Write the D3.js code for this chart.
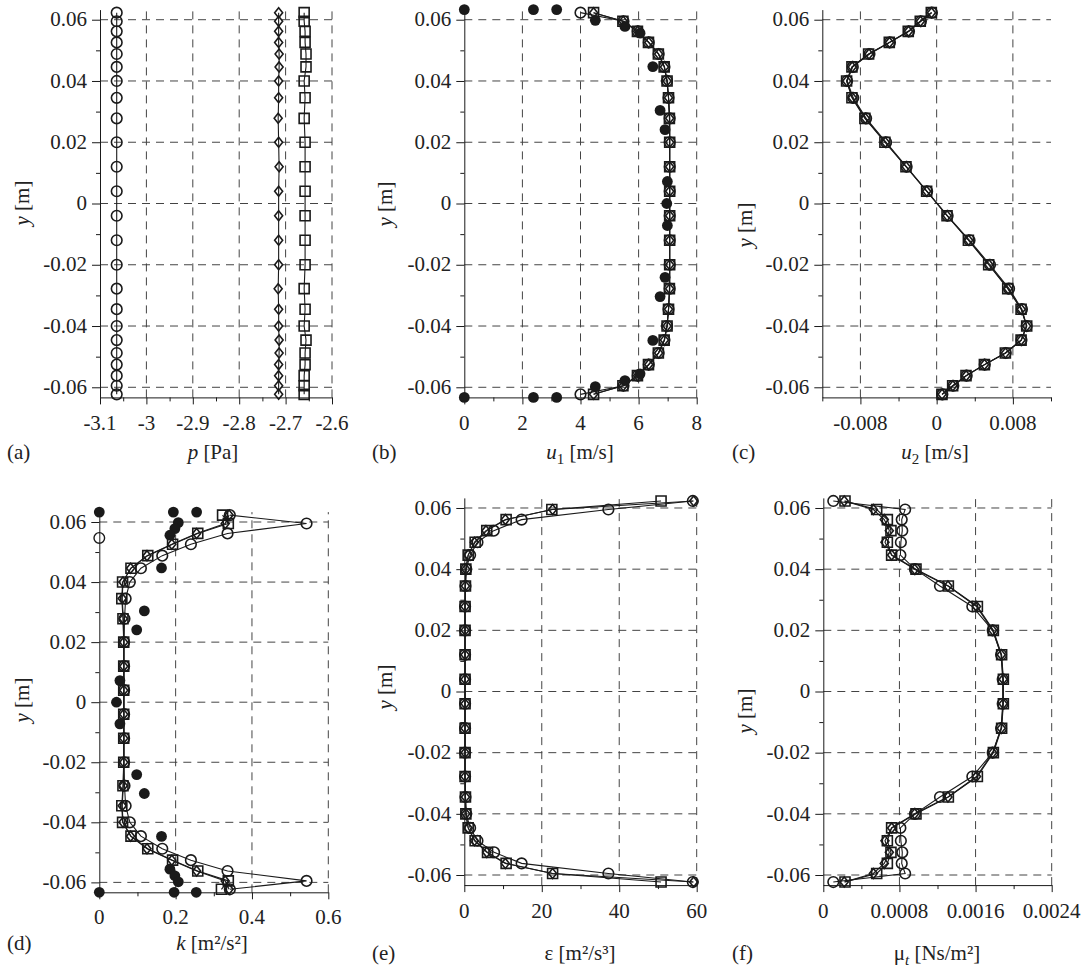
<!DOCTYPE html>
<html>
<head>
<meta charset="utf-8">
<script src="https://cdn.jsdelivr.net/npm/d3@7"></script>
<style>
  body { margin: 0; background: #fff; }
</style>
</head>
<body>
<svg width="1084" height="968"></svg>
<script>
const svg = d3.select('svg');
const serif = 'Times New Roman';

// grid nodes across the channel (top to bottom) [m]
const yNodes = [0.0623, 0.0595, 0.0562, 0.0526, 0.0488, 0.0446, 0.0400, 0.0345, 0.0278, 0.0200, 0.0120, 0.0040,
  -0.0040, -0.0120, -0.0200, -0.0278, -0.0345, -0.0400, -0.0446, -0.0488, -0.0526, -0.0562, -0.0595, -0.0623];

// measured points (filled circles)
const yExp = [0.0633, 0.0633, 0.0633, 0.0598, 0.0578, 0.0556, 0.0447, 0.0304, 0.0241, 0.0072, 0,
  -0.0072, -0.0241, -0.0304, -0.0447, -0.0556, -0.0578, -0.0598, -0.0633, -0.0633, -0.0633];

const yTicks = [0.06, 0.04, 0.02, 0, -0.02, -0.04, -0.06];
const yMinor = [0.05, 0.03, 0.01, -0.01, -0.03, -0.05];

// (a) pressure
const pCircle = [-3.064, -3.064, -3.064, -3.064, -3.064, -3.064, -3.064, -3.064, -3.064, -3.064, -3.064, -3.064,
  -3.064, -3.064, -3.064, -3.064, -3.064, -3.064, -3.064, -3.064, -3.064, -3.064, -3.064, -3.064];
const pDiamond = [-2.715, -2.715, -2.715, -2.715, -2.714, -2.714, -2.715, -2.715, -2.716, -2.715, -2.714, -2.715,
  -2.715, -2.715, -2.715, -2.716, -2.715, -2.715, -2.714, -2.714, -2.715, -2.715, -2.715, -2.715];
const pSquare = [-2.660, -2.660, -2.658, -2.658, -2.656, -2.656, -2.660, -2.658, -2.660, -2.658, -2.658, -2.658,
  -2.658, -2.658, -2.658, -2.660, -2.658, -2.660, -2.656, -2.658, -2.658, -2.660, -2.660, -2.660];
const pTicks = [-3.1, -3, -2.9, -2.8, -2.7, -2.6];
const pMinor = [-3.05, -2.95, -2.85, -2.75, -2.65];

// (b) streamwise velocity
const u1Circle = [4.0, 5.48, 5.97, 6.35, 6.69, 6.89, 6.98, 7.03, 7.07, 7.07, 7.07, 7.07,
  7.07, 7.07, 7.07, 7.07, 7.03, 6.98, 6.89, 6.69, 6.35, 5.97, 5.48, 4.0];
const u1Square = [4.45, 5.46, 5.96, 6.34, 6.68, 6.88, 6.98, 7.03, 7.06, 7.07, 7.07, 7.07,
  7.07, 7.07, 7.07, 7.06, 7.03, 6.98, 6.88, 6.68, 6.34, 5.96, 5.46, 4.45];
const u1Diamond = [4.45, 5.47, 5.97, 6.35, 6.69, 6.89, 6.98, 7.03, 7.07, 7.07, 7.07, 7.07,
  7.07, 7.07, 7.07, 7.07, 7.03, 6.98, 6.89, 6.69, 6.35, 5.97, 5.47, 4.45];
const u1Exp = [0, 2.38, 3.18, 4.51, 5.53, 6.05, 6.49, 6.74, 6.91, 6.99, 6.97,
  6.99, 6.91, 6.74, 6.49, 6.05, 5.53, 4.51, 0, 2.38, 3.18];
const u1Ticks = [0, 2, 4, 6, 8];
const u1Minor = [1, 3, 5, 7];

// (c) cross-stream velocity
const u2Circle = [-0.00050, -0.00165, -0.00290, -0.00490, -0.00705, -0.00880, -0.00940, -0.00875, -0.00740, -0.00530, -0.00315, -0.00100,
  0.00115, 0.00345, 0.00560, 0.00760, 0.00895, 0.00945, 0.00890, 0.00725, 0.00505, 0.00315, 0.00175, 0.00060];
const u2Square = [-0.00056, -0.00172, -0.00298, -0.00497, -0.00714, -0.00889, -0.00945, -0.00889, -0.00753, -0.00543, -0.00322, -0.00105,
  0.00109, 0.00333, 0.00546, 0.00746, 0.00886, 0.00945, 0.00886, 0.00721, 0.00501, 0.00308, 0.00168, 0.00056];
const u2Diamond = [-0.00054, -0.00170, -0.00295, -0.00495, -0.00710, -0.00886, -0.00944, -0.00884, -0.00748, -0.00538, -0.00320, -0.00104,
  0.00110, 0.00336, 0.00550, 0.00750, 0.00888, 0.00945, 0.00887, 0.00722, 0.00502, 0.00310, 0.00170, 0.00057];
const u2Ticks = [-0.008, 0, 0.008];
const u2Minor = [-0.012, -0.004, 0.004, 0.012];

// (d) turbulent kinetic energy
const kCircle = [0.342, 0.543, 0.336, 0.240, 0.165, 0.109, 0.080, 0.069, 0.066, 0.065, 0.065, 0.065,
  0.065, 0.065, 0.065, 0.066, 0.069, 0.080, 0.109, 0.165, 0.240, 0.336, 0.543, 0.342];
const kSquare = [0.323, 0.338, 0.258, 0.192, 0.127, 0.083, 0.061, 0.059, 0.062, 0.064, 0.064, 0.064,
  0.064, 0.064, 0.064, 0.062, 0.059, 0.061, 0.083, 0.127, 0.192, 0.258, 0.338, 0.320];
const kDiamond = [0.340, 0.330, 0.255, 0.190, 0.125, 0.082, 0.062, 0.060, 0.063, 0.064, 0.064, 0.064,
  0.064, 0.064, 0.064, 0.063, 0.060, 0.062, 0.082, 0.125, 0.190, 0.255, 0.330, 0.340];
const kExp = [0, 0.194, 0.255, 0.207, 0.198, 0.185, 0.163, 0.118, 0.098, 0.054, 0.045,
  0.054, 0.098, 0.118, 0.163, 0.185, 0.198, 0.207, 0, 0.196, 0.254];
const kStray = [{k: 0, y: 0.0547}];
const kTicks = [0, 0.2, 0.4, 0.6];
const kMinor = [0.1, 0.3, 0.5];

// (e) dissipation
const epsCircle = [59.0, 37.2, 14.8, 7.6, 3.4, 1.5, 0.5, 0.3, 0.2, 0.2, 0.2, 0.2,
  0.2, 0.2, 0.2, 0.2, 0.3, 0.5, 1.5, 3.4, 7.7, 14.8, 37.2, 59.0];
const epsSquare = [50.8, 22.6, 10.8, 5.8, 2.8, 1.0, 0.4, 0.3, 0.2, 0.2, 0.2, 0.2,
  0.2, 0.2, 0.2, 0.2, 0.3, 0.4, 1.0, 2.8, 6.0, 10.8, 22.8, 50.8];
const epsDiamond = [59.2, 22.8, 10.6, 5.6, 2.6, 1.0, 0.4, 0.3, 0.2, 0.2, 0.2, 0.2,
  0.2, 0.2, 0.2, 0.2, 0.3, 0.4, 1.0, 2.6, 5.8, 10.6, 22.8, 59.2];
const epsTicks = [0, 20, 40, 60];
const epsMinor = [10, 30, 50];

// (f) eddy viscosity
const muCircle = [0.000105, 0.000860, 0.000824, 0.000830, 0.000815, 0.000810, 0.000963, 0.001226, 0.001566, 0.001780, 0.001868, 0.001885,
  0.001885, 0.001868, 0.001780, 0.001566, 0.001226, 0.000963, 0.000810, 0.000815, 0.000830, 0.000824, 0.000860, 0.000105];
const muSquare = [0.000228, 0.000561, 0.000673, 0.000711, 0.000673, 0.000718, 0.000974, 0.001314, 0.001619, 0.001787, 0.001874, 0.001892,
  0.001892, 0.001874, 0.001787, 0.001619, 0.001314, 0.000974, 0.000718, 0.000673, 0.000711, 0.000673, 0.000561, 0.000228];
const muDiamond = [0.000220, 0.000526, 0.000641, 0.000694, 0.000648, 0.000718, 0.000960, 0.001310, 0.001610, 0.001780, 0.001870, 0.001890,
  0.001890, 0.001870, 0.001780, 0.001610, 0.001310, 0.000960, 0.000718, 0.000648, 0.000694, 0.000641, 0.000526, 0.000220];
const muTicks = [0, 0.0008, 0.0016, 0.0024];
const muMinor = [0.0004, 0.0012, 0.002];

const yDomain = [-0.0633, 0.0633];
const fontSize = '21px';
const ink = '#1a1a1a';

// tall rhombus marker
const diamondType = {
  draw(context, size) {
    const h = Math.sqrt(size) / 2, w = h * 0.8;
    context.moveTo(0, -h);
    context.lineTo(w, 0);
    context.lineTo(0, h);
    context.lineTo(-w, 0);
    context.closePath();
  }
};

const fmt = d => String(d);

// text goes straight onto the svg root, in the serif face
const addText = () => svg.append('text')
  .style('font-family', serif)
  .style('font-size', fontSize)
  .attr('fill', '#222');

const render = p => {
  const xScale = d3.scaleLinear().domain(p.xDomain).range([p.left, p.right]);
  const yScale = d3.scaleLinear().domain(yDomain).range([p.bottom, p.top]);
  const g = svg.append('g');

  // dashed grid
  g.append('g').selectAll('line').data(yTicks)
    .enter().append('line')
      .attr('x1', p.left).attr('x2', p.right)
      .attr('y1', d => yScale(d)).attr('y2', d => yScale(d))
      .attr('stroke', '#444').attr('stroke-dasharray', '8,6');
  g.append('g').selectAll('line').data(p.xTicks.filter(d => d !== p.xDomain[0]))
    .enter().append('line')
      .attr('x1', d => xScale(d)).attr('x2', d => xScale(d))
      .attr('y1', p.bottom).attr('y2', p.top)
      .attr('stroke', '#444').attr('stroke-dasharray', '8,6');

  // axes (lines only; labels are added below)
  const styleAxis = sel => sel
    .call(s => s.selectAll('line, path').attr('stroke', ink))
    .call(s => s.selectAll('text').remove());

  g.append('g')
    .attr('transform', `translate(0,${p.bottom})`)
    .call(d3.axisBottom(xScale).tickValues(p.xMinor).tickSize(4).tickSizeOuter(0))
    .call(s => s.select('.domain').remove())
    .call(styleAxis);
  g.append('g')
    .attr('transform', `translate(${p.left},0)`)
    .call(d3.axisLeft(yScale).tickValues(yMinor).tickSize(4).tickSizeOuter(0))
    .call(s => s.select('.domain').remove())
    .call(styleAxis);
  g.append('g')
    .attr('transform', `translate(0,${p.bottom})`)
    .call(d3.axisBottom(xScale).tickValues(p.xTicks).tickSize(7).tickSizeOuter(0))
    .call(styleAxis);
  g.append('g')
    .attr('transform', `translate(${p.left},0)`)
    .call(d3.axisLeft(yScale).tickValues(yTicks).tickSize(8).tickSizeOuter(0))
    .call(styleAxis);

  // tick labels
  p.xTicks.forEach(d => {
    addText()
      .attr('x', xScale(d)).attr('y', p.bottom + 7 + p.xPad)
      .attr('dy', '0.71em')
      .attr('text-anchor', 'middle')
      .text(fmt(d));
  });
  yTicks.forEach(d => {
    addText()
      .attr('x', p.left - 13).attr('y', yScale(d))
      .attr('dy', '0.32em')
      .attr('text-anchor', 'end')
      .text(fmt(d));
  });

  // lines
  const line = d3.line().x(d => xScale(d.x)).y(d => yScale(d.y));
  p.series.forEach(s => {
    g.append('path')
      .datum(s.values.map((v, i) => ({x: v, y: yNodes[i]})))
      .attr('d', line)
      .attr('fill', 'none')
      .attr('stroke', ink)
      .attr('stroke-width', 1.1);
  });

  // open markers
  p.series.forEach(s => {
    const sym = d3.symbol().type(s.type).size(s.size);
    g.append('g').selectAll('path')
      .data(s.values.map((v, i) => ({x: v, y: yNodes[i]})))
      .enter().append('path')
        .attr('transform', d => `translate(${xScale(d.x)},${yScale(d.y)})`)
        .attr('d', sym)
        .attr('fill', 'none')
        .attr('stroke', ink)
        .attr('stroke-width', 1.6);
  });

  // extra open points
  (p.stray || []).forEach(d => {
    g.append('circle')
      .attr('cx', xScale(d.x)).attr('cy', yScale(d.y)).attr('r', 5.3)
      .attr('fill', 'none').attr('stroke', ink).attr('stroke-width', 1.4);
  });

  // measurements
  if (p.exp) {
    g.append('g').selectAll('circle')
      .data(p.exp.map((v, i) => ({x: v, y: yExp[i]})))
      .enter().append('circle')
        .attr('cx', d => xScale(d.x))
        .attr('cy', d => yScale(d.y))
        .attr('r', 5.4)
        .attr('fill', ink);
  }

  // labels
  addText()
    .attr('transform', `translate(${p.yLabel[0] + 7},${p.yLabel[1]}) rotate(-90)`)
    .attr('text-anchor', 'middle')
    .call(t => {
      t.append('tspan').attr('font-style', 'italic').text('y');
      t.append('tspan').text(' [m]');
    });

  addText()
    .attr('x', p.letterX).attr('y', p.labelY)
    .text(p.letter);

  addText()
    .attr('x', p.xLabelX).attr('y', p.labelY)
    .attr('text-anchor', 'middle')
    .call(p.xLabel);
};

const circleSeries = values => ({values, type: d3.symbolCircle, size: Math.PI * 5.3 * 5.3});
const squareSeries = values => ({values, type: d3.symbolSquare, size: 100});
const diamondSeries = values => ({values, type: diamondType, size: 100});

render({
  left: 100, right: 332, top: 9.6, bottom: 397.4, xDomain: [-3.1, -2.6],
  xTicks: pTicks, xMinor: pMinor, xPad: 11,
  series: [circleSeries(pCircle), diamondSeries(pDiamond), squareSeries(pSquare)],
  yLabel: [22, 203], letter: '(a)', letterX: 7, labelY: 459, xLabelX: 213,
  xLabel: t => {
    t.append('tspan').attr('font-style', 'italic').text('p');
    t.append('tspan').text(' [Pa]');
  }
});

render({
  left: 464.3, right: 696.7, top: 9.6, bottom: 397.4, xDomain: [0, 8],
  xTicks: u1Ticks, xMinor: u1Minor, xPad: 11,
  series: [squareSeries(u1Square), circleSeries(u1Circle), diamondSeries(u1Diamond)],
  exp: u1Exp,
  yLabel: [385, 204], letter: '(b)', letterX: 372, labelY: 459, xLabelX: 580,
  xLabel: t => {
    t.append('tspan').attr('font-style', 'italic').text('u');
    t.append('tspan').attr('dy', 5).style('font-size', '15px').text('1');
    t.append('tspan').attr('dy', -5).text(' [m/s]');
  }
});

render({
  left: 822.3, right: 1051, top: 9.6, bottom: 397.4, xDomain: [-0.012, 0.012],
  xTicks: u2Ticks, xMinor: u2Minor, xPad: 11,
  series: [squareSeries(u2Square), circleSeries(u2Circle), diamondSeries(u2Diamond)],
  yLabel: [745, 225], letter: '(c)', letterX: 732, labelY: 459, xLabelX: 935,
  xLabel: t => {
    t.append('tspan').attr('font-style', 'italic').text('u');
    t.append('tspan').attr('dy', 5).style('font-size', '15px').text('2');
    t.append('tspan').attr('dy', -5).text(' [m/s]');
  }
});

render({
  left: 99.3, right: 328.3, top: 512.1, bottom: 892.3, xDomain: [0, 0.6],
  xTicks: kTicks, xMinor: kMinor, xPad: 10,
  series: [squareSeries(kSquare), circleSeries(kCircle), diamondSeries(kDiamond)],
  exp: kExp,
  stray: kStray.map(d => ({x: d.k, y: d.y})),
  yLabel: [22, 700], letter: '(d)', letterX: 7, labelY: 950, xLabelX: 212,
  xLabel: t => {
    t.append('tspan').attr('font-style', 'italic').text('k');
    t.append('tspan').text(' [m²/s²]');
  }
});

render({
  left: 464.3, right: 696.7, top: 497.9, bottom: 885.1, xDomain: [0, 60],
  xTicks: epsTicks, xMinor: epsMinor, xPad: 11,
  series: [squareSeries(epsSquare), circleSeries(epsCircle), diamondSeries(epsDiamond)],
  yLabel: [385, 687], letter: '(e)', letterX: 372, labelY: 960, xLabelX: 580,
  xLabel: t => {
    t.append('tspan').text('ε [m²/s³]');
  }
});

render({
  left: 823.3, right: 1051.7, top: 497.9, bottom: 885.1, xDomain: [0, 0.0024],
  xTicks: muTicks, xMinor: muMinor, xPad: 11,
  series: [squareSeries(muSquare), circleSeries(muCircle), diamondSeries(muDiamond)],
  yLabel: [745, 711], letter: '(f)', letterX: 732, labelY: 960, xLabelX: 937,
  xLabel: t => {
    t.append('tspan').text('μ');
    t.append('tspan').attr('dy', 5).style('font-size', '15px').attr('font-style', 'italic').text('t');
    t.append('tspan').attr('dy', -5).text(' [Ns/m²]');
  }
});
</script>
</body>
</html>
